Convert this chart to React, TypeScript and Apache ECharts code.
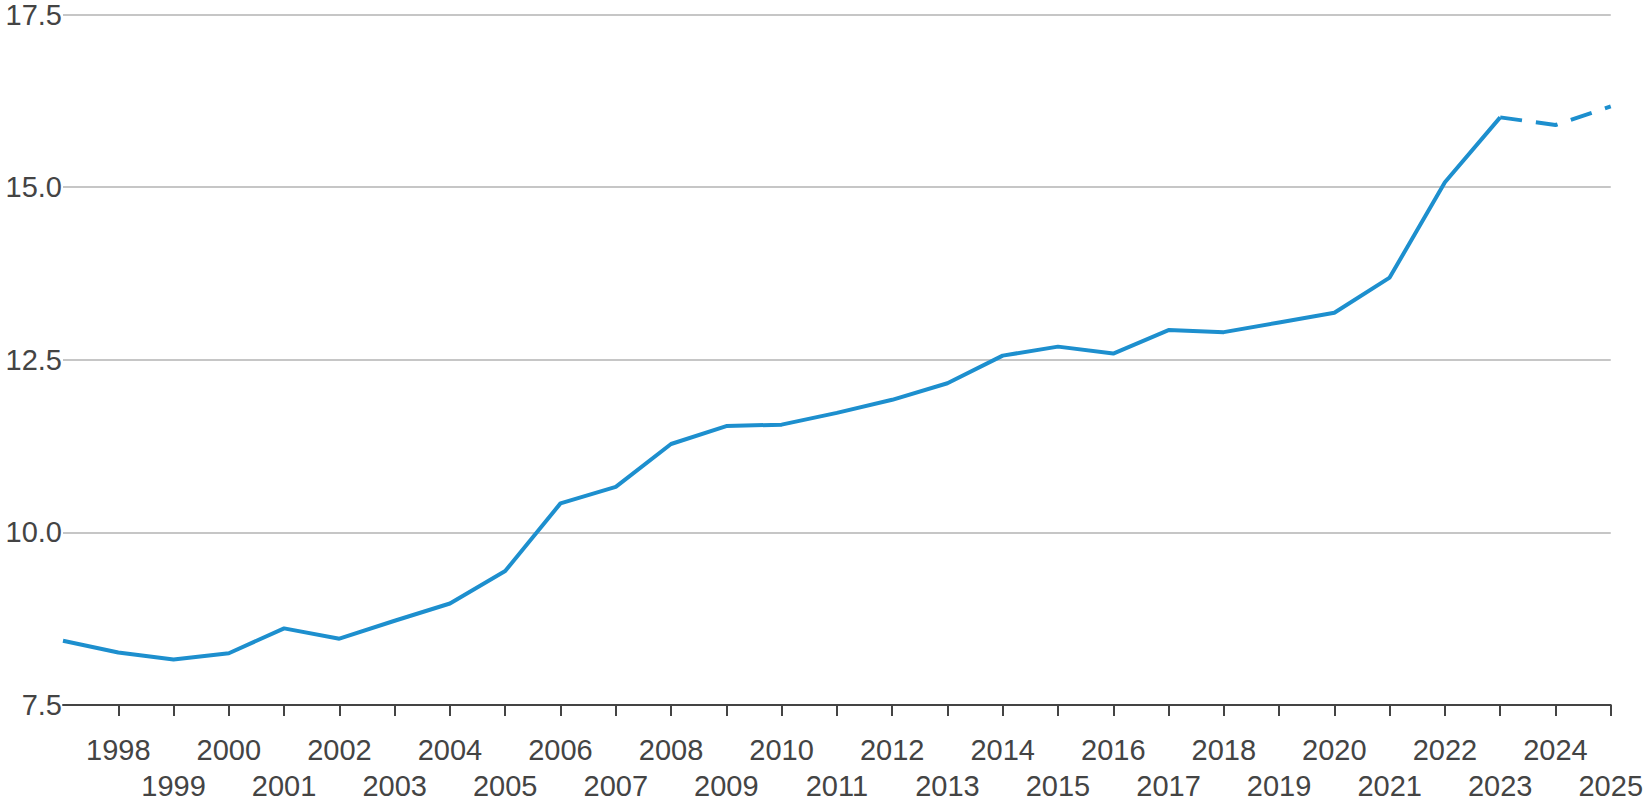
import React, { useEffect, useRef } from "react";
import * as echarts from "echarts";

const years: string[] = [
  "1997", "1998", "1999", "2000", "2001", "2002", "2003", "2004", "2005", "2006",
  "2007", "2008", "2009", "2010", "2011", "2012", "2013", "2014", "2015", "2016",
  "2017", "2018", "2019", "2020", "2021", "2022", "2023", "2024", "2025",
];

const values: number[] = [
  8.43, 8.26, 8.16, 8.25, 8.61, 8.46, 8.72, 8.97, 9.44, 10.42,
  10.66, 11.28, 11.54, 11.56, 11.73, 11.92, 12.16, 12.56, 12.69, 12.59,
  12.93, 12.9, 13.04, 13.18, 13.69, 15.07, 16.01, 15.9, 16.17,
];

// index where the projected (dashed) part begins
const projectionStartYear = "2023";

const yMin = 7.5;
const yMax = 17.5;
const yStep = 2.5;

const LINE_COLOR = "#1d8fce";
const TEXT_COLOR = "#444444";
const FONT = "'Liberation Sans', Arial, Helvetica, sans-serif";

export default function App() {
  const ref = useRef<HTMLDivElement>(null);

  useEffect(() => {
    if (!ref.current) return;
    const chart = echarts.init(ref.current, undefined, { renderer: "svg" });
    const split = years.indexOf(projectionStartYear);
    const actual = values.map((v, i) => (i <= split ? v : null));
    const projected = values.map((v, i) => (i >= split ? v : null));

    chart.setOption({
      animation: false,
      backgroundColor: "#ffffff",
      grid: { left: 63, right: 34, top: 8, bottom: 97, containLabel: false },
      xAxis: {
        type: "category",
        data: years,
        boundaryGap: false,
        axisLine: { show: true, lineStyle: { color: TEXT_COLOR, width: 2 } },
        axisTick: {
          show: true,
          interval: (index: number) => index !== 0,
          length: 11,
          lineStyle: { color: TEXT_COLOR, width: 2 },
        },
        axisLabel: {
          interval: 0,
          margin: 27,
          color: TEXT_COLOR,
          fontFamily: FONT,
          fontSize: 29,
          lineHeight: 36,
          hideOverlap: false,
          formatter: (v: string, i: number) => {
            if (i === 0) return "";
            return Number(v) % 2 === 0 ? v : "\n" + v;
          },
        },
        splitLine: { show: false },
      },
      yAxis: {
        type: "value",
        min: yMin,
        max: yMax,
        interval: yStep,
        axisLine: { show: false },
        axisTick: { show: false },
        axisLabel: {
          margin: 1,
          color: TEXT_COLOR,
          fontFamily: FONT,
          fontSize: 29,
          padding: [12, 0, 0, 0],
          formatter: (v: number) => v.toFixed(1),
        },
        splitLine: { show: true, lineStyle: { color: "#c6c6c6", width: 2 } },
      },
      series: [
        {
          type: "line",
          data: actual,
          symbol: "none",
          connectNulls: false,
          lineStyle: { color: LINE_COLOR, width: 4 },
          z: 3,
        },
        {
          type: "line",
          data: projected,
          symbol: "none",
          connectNulls: false,
          lineStyle: { color: LINE_COLOR, width: 4, type: [22, 14] },
          z: 3,
        },
      ],
    });
    return () => chart.dispose();
  }, []);

  return (
    <div
      ref={ref}
      style={{ position: "absolute", left: 0, top: 0, width: 1646, height: 804, background: "#fff" }}
    />
  );
}
